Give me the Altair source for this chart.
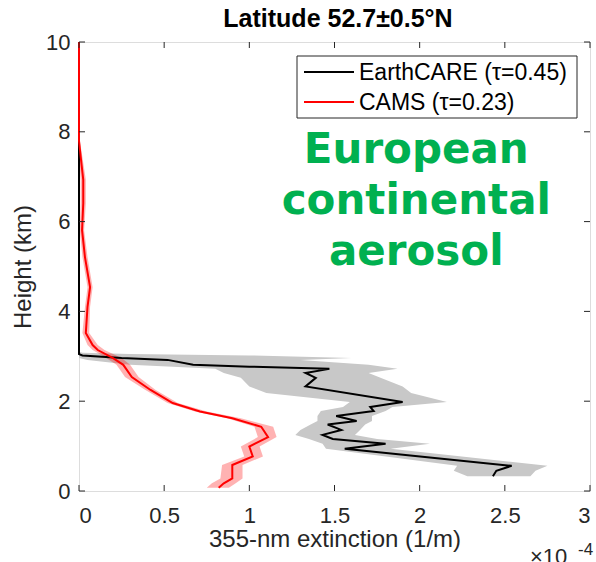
import altair as alt
import pandas as pd

# EarthCARE extinction profile (1e-4 1/m) vs height (km)
ec_h = [10, 3.05, 3.02, 2.96, 2.92, 2.81, 2.77, 2.72, 2.63, 2.52, 2.33, 1.98, 1.87, 1.78,
        1.67, 1.56, 1.48, 1.36, 1.25, 1.16, 1.05, 0.94, 0.56, 0.45, 0.33]
ec_x = [0, 0, 0.02, 0.25, 0.52, 0.67, 1.0, 1.47, 1.33, 1.39, 1.33, 1.90, 1.71, 1.73,
        1.51, 1.63, 1.46, 1.54, 1.43, 1.49, 1.80, 1.56, 2.54, 2.45, 2.43]

# EarthCARE uncertainty envelope
ecb_h = [3.1, 3.08, 3.05, 3.02, 2.96, 2.92, 2.81, 2.72, 2.63, 2.52, 2.33, 2.18, 1.98, 1.87,
         1.78, 1.67, 1.56, 1.48, 1.36, 1.25, 1.16, 1.05, 0.94, 0.56, 0.45, 0.33]
ecb_lo = [0, 0, 0, 0, 0, 0.05, 0.3, 0.8, 0.85, 0.95, 1.0, 1.1, 1.59, 1.55,
          1.42, 1.4, 1.4, 1.36, 1.3, 1.27, 1.35, 1.43, 1.45, 2.22, 2.2, 2.28]
ecb_hi = [0, 0.02, 0.3, 1.0, 1.6, 1.3, 1.7, 1.87, 1.70, 1.77, 1.9, 1.95, 2.16, 1.84,
          1.8, 1.72, 1.72, 1.68, 1.65, 1.62, 1.75, 2.06, 1.83, 2.75, 2.68, 2.65]

# CAMS extinction profile and its envelope
cams_h = [10, 7.8, 7.44, 6.93, 6.41, 5.81, 5.21, 4.54, 4.1, 3.52, 3.25, 3.14, 2.96, 2.81,
          2.54, 2.25, 1.96, 1.77, 1.62, 1.43, 1.20, 0.99, 0.77, 0.58, 0.28, 0.17, 0.07]
cams_x = [0, 0, 0.01, 0.025, 0.025, 0.018, 0.035, 0.065, 0.05, 0.04, 0.08, 0.11, 0.20, 0.26,
          0.31, 0.42, 0.55, 0.71, 0.90, 1.07, 1.11, 1.00, 1.02, 0.90, 0.90, 0.85, 0.82]
cams_lo = [0, 0, 0, 0.01, 0.01, 0.005, 0.02, 0.05, 0.035, 0.02, 0.05, 0.08, 0.16, 0.22,
           0.27, 0.39, 0.52, 0.68, 0.87, 1.03, 1.05, 0.95, 0.97, 0.84, 0.83, 0.78, 0.75]
cams_hi = [0, 0.005, 0.02, 0.04, 0.04, 0.03, 0.05, 0.08, 0.065, 0.06, 0.11, 0.15, 0.25, 0.30,
           0.35, 0.45, 0.58, 0.75, 0.95, 1.14, 1.16, 1.06, 1.08, 0.96, 0.96, 0.92, 0.88]

series_names = ["EarthCARE (τ=0.45)", "CAMS (τ=0.23)"]
series_colors = ["#000000", "#ff0000"]

x_ticks = [0, 0.5, 1, 1.5, 2, 2.5, 3]
y_ticks = [0, 2, 4, 6, 8, 10]

W, H = 511, 449
FONT = "Liberation Sans"
INK = "#262626"

ec_df = pd.DataFrame({"h": ec_h, "x": ec_x, "i": range(len(ec_h))})
cams_df = pd.DataFrame({"h": cams_h, "x": cams_x, "i": range(len(cams_h))})
ecb_df = pd.DataFrame({"h": ecb_h, "lo": ecb_lo, "hi": ecb_hi})
camsb_df = pd.DataFrame({"h": cams_h, "lo": cams_lo, "hi": cams_hi})

xs = alt.Scale(domain=[0, 3], nice=False, zero=False)
ys = alt.Scale(domain=[0, 10], nice=False, zero=False)

x_axis = alt.Axis(values=x_ticks, format="~g", grid=False, ticks=False, domain=False,
                  labelFontSize=22, labelPadding=14, labelColor=INK, labelFont=FONT,
                  title="355-nm extinction (1/m)", titleFontSize=24, titleFont=FONT,
                  titleFontWeight="normal", titleColor=INK, titleBaseline="alphabetic",
                  titleY=55)
y_axis = alt.Axis(values=y_ticks, format="d", grid=False, ticks=False, domain=False,
                  labelFontSize=22, labelPadding=9, labelColor=INK, labelFont=FONT,
                  title="Height (km)", titleFontSize=24, titleFont=FONT,
                  titleFontWeight="normal", titleColor=INK, titlePadding=10)

ec_band = alt.Chart(ecb_df).mark_area(orient="horizontal", color="#c8c8c8").encode(
    y=alt.Y("h:Q", scale=ys, axis=y_axis),
    x=alt.X("lo:Q", scale=xs, axis=x_axis),
    x2="hi:Q",
)
cams_band = alt.Chart(camsb_df).mark_area(orient="horizontal", color="#ff0000",
                                          opacity=0.3).encode(
    y=alt.Y("h:Q", scale=ys), x=alt.X("lo:Q", scale=xs), x2="hi:Q"
)
ec_line = alt.Chart(ec_df).mark_line(strokeWidth=2, color=series_colors[0]).encode(
    x=alt.X("x:Q", scale=xs), y=alt.Y("h:Q", scale=ys), order="i:Q"
)
cams_line = alt.Chart(cams_df).mark_line(strokeWidth=2, color=series_colors[1]).encode(
    x=alt.X("x:Q", scale=xs), y=alt.Y("h:Q", scale=ys), order="i:Q"
)

# inward ticks on all four sides of the box
xt = pd.DataFrame({"v": x_ticks})
yt = pd.DataFrame({"v": y_ticks})
tick_style = dict(color=INK, strokeWidth=1)
xt_bottom = alt.Chart(xt).mark_rule(**tick_style).encode(
    x=alt.X("v:Q", scale=xs), y=alt.value(H), y2=alt.value(H - 6))
xt_top = alt.Chart(xt).mark_rule(**tick_style).encode(
    x=alt.X("v:Q", scale=xs), y=alt.value(0), y2=alt.value(6))
yt_left = alt.Chart(yt).mark_rule(**tick_style).encode(
    y=alt.Y("v:Q", scale=ys), x=alt.value(0), x2=alt.value(6))
yt_right = alt.Chart(yt).mark_rule(**tick_style).encode(
    y=alt.Y("v:Q", scale=ys), x=alt.value(W), x2=alt.value(W - 6))

# legend box with line samples and labels
one = pd.DataFrame({"k": [0]})
leg_box = alt.Chart(one).mark_rect(fill="white", stroke=INK, strokeWidth=1).encode(
    x=alt.value(218), x2=alt.value(498), y=alt.value(14), y2=alt.value(76))
leg_layers = []
for name, col, yy in zip(series_names, series_colors, [30, 60]):
    leg_layers.append(alt.Chart(one).mark_rule(strokeWidth=2, color=col).encode(
        x=alt.value(225), x2=alt.value(275), y=alt.value(yy)))
    leg_layers.append(alt.Chart(pd.DataFrame({"t": [name]})).mark_text(
        font=FONT, fontSize=23, color="#000000", align="left", baseline="alphabetic"
    ).encode(x=alt.value(280), y=alt.value(yy + 8), text="t:N"))

# annotation text
note = alt.Chart(pd.DataFrame({"x": [1.98], "h": [7.3],
                               "t": ["European\ncontinental\naerosol"]})).mark_text(
    font="DejaVu Sans", fontWeight="bold", fontSize=42, color="#00b050",
    align="center", baseline="alphabetic", lineBreak="\n", lineHeight=51
).encode(x=alt.X("x:Q", scale=xs), y=alt.Y("h:Q", scale=ys), text="t:N")

# panel title
title = alt.Chart(pd.DataFrame({"t": ["Latitude 52.7±0.5°N"]})).mark_text(
    font=FONT, fontSize=25, fontWeight="bold", color="#000000",
    align="center", baseline="alphabetic"
).encode(x=alt.value(259), y=alt.value(-15), text="t:N")

# axis exponent
exp_base = alt.Chart(pd.DataFrame({"t": ["×10"]})).mark_text(
    font=FONT, fontSize=22, color=INK, align="left", baseline="alphabetic"
).encode(x=alt.value(451), y=alt.value(522), text="t:N")
exp_pow = alt.Chart(pd.DataFrame({"t": ["-4"]})).mark_text(
    font=FONT, fontSize=17, color=INK, align="left", baseline="alphabetic"
).encode(x=alt.value(499), y=alt.value(513), text="t:N")

chart = alt.layer(
    ec_band, cams_band, ec_line, cams_line,
    xt_bottom, xt_top, yt_left, yt_right, note,
    leg_box, *leg_layers, title, exp_base, exp_pow
).properties(
    width=W, height=H,
    autosize=alt.AutoSizeParams(type="none"),
    padding={"left": 79, "top": 42, "right": 6, "bottom": 71},
).configure_view(stroke=INK, strokeWidth=1).configure(background="white")

chart.save("out.html", embed_options={"renderer": "svg", "actions": False})
